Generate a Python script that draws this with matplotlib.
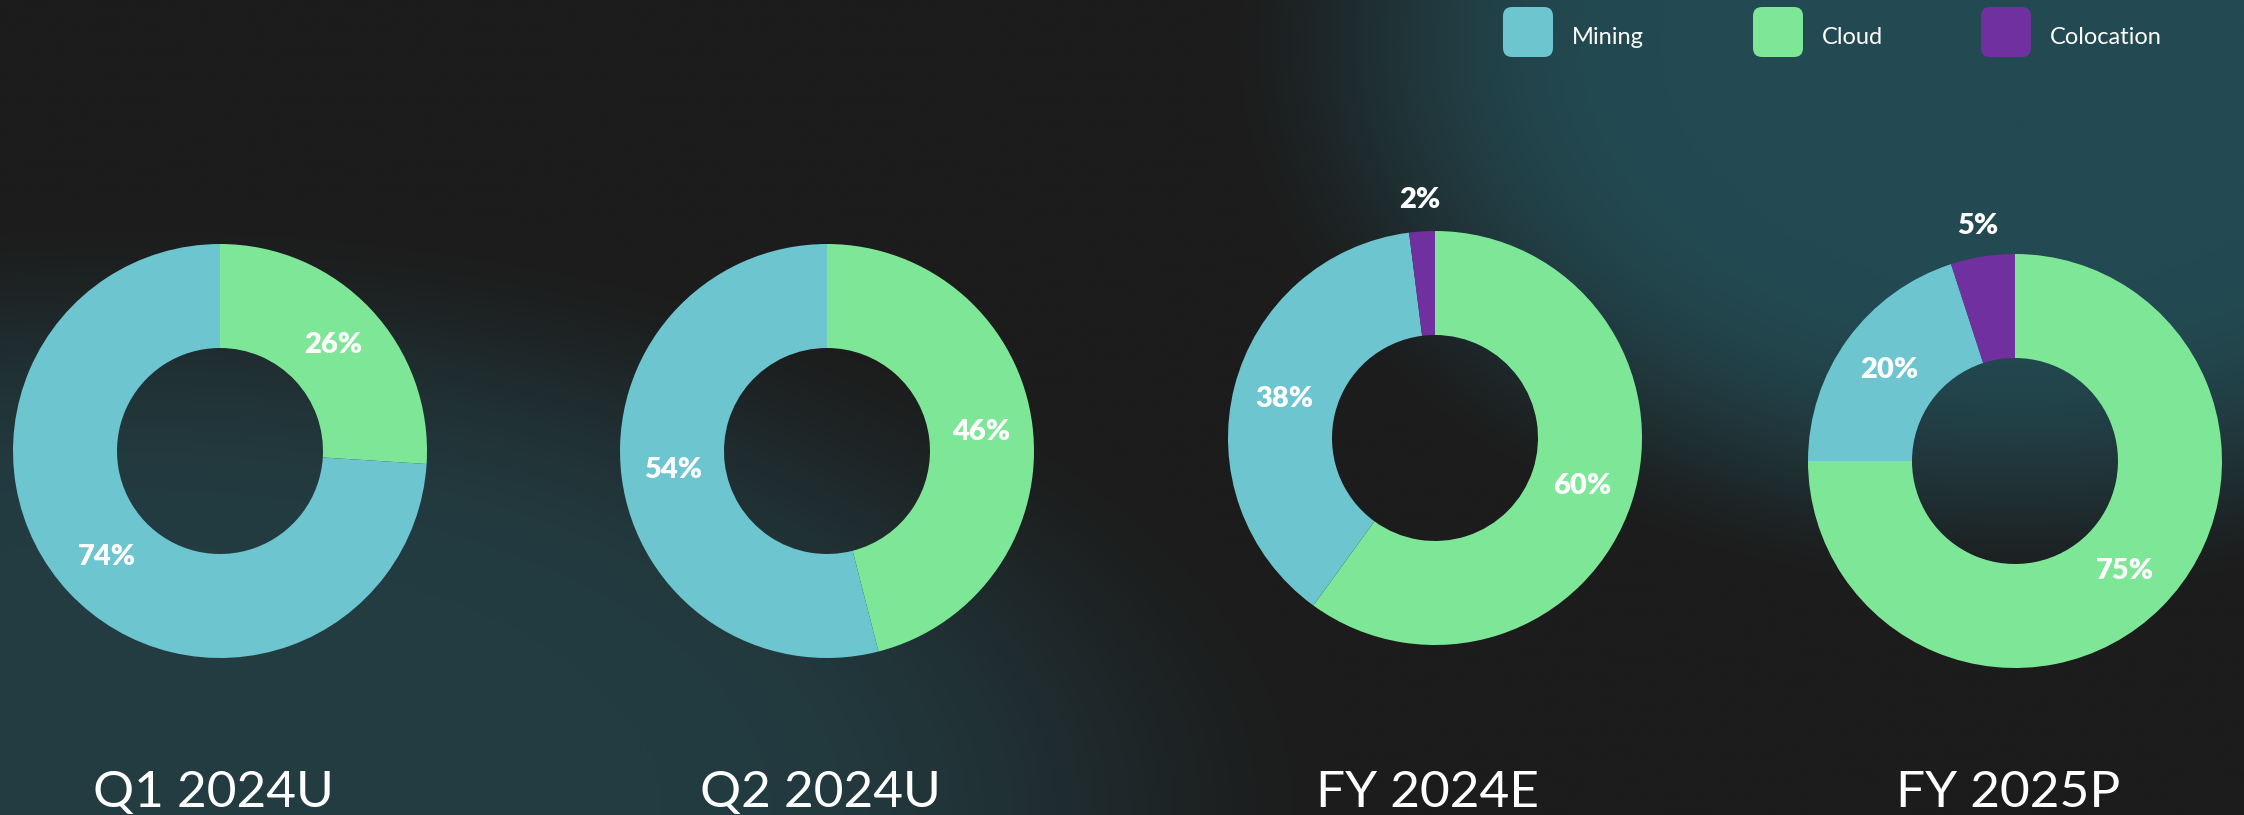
import numpy as np
import matplotlib
matplotlib.use("Agg")
import matplotlib.pyplot as plt
from matplotlib.patches import FancyBboxPatch

W, H = 2244, 815

categories = ["Mining", "Cloud", "Colocation"]
colors = ["#6cc5cf", "#7ee797", "#7030a0"]
periods = ["Q1 2024U", "Q2 2024U", "FY 2024E", "FY 2025P"]
mining = [74, 54, 38, 20]
cloud = [26, 46, 60, 75]
colocation = [0, 0, 2, 5]

# layout in slide pixels (origin top-left)
centers = [(220, 451), (827, 451), (1435, 438), (2015, 461)]
R_OUT, R_IN = 207, 103
legend_x = [1503, 1753, 1981]

plt.rcParams['font.family'] = ['Lato', 'DejaVu Sans']

# background: dark slide with two soft teal glows
def smooth(t):
    t = np.clip(t, 0, 1)
    return t * t * (3 - 2 * t)

u, v = np.meshgrid(np.linspace(0, 1, 450), np.linspace(0, 1, 165))
dA = ((u - 0.9) / 0.36) ** 2 + ((v - 0.05) / 0.7) ** 2
dB = ((u - 0.05) / 0.55) ** 2 + ((v - 1.0) / 0.75) ** 2
wA = smooth((1 - dA) / 0.8)[..., None]
wB = smooth((1 - dB) / 0.8)[..., None]
base = np.array([28, 28, 28]) / 255
tealA = np.array([35, 74, 82]) / 255
tealB = np.array([35, 60, 65]) / 255
bg = base * (1 - wA) + tealA * wA
bg = bg * (1 - wB) + tealB * wB

fig = plt.figure(figsize=(W / 100, H / 100), dpi=100)
ax = fig.add_axes([0, 0, 1, 1])
ax.imshow(bg, extent=(0, W, 0, H), origin='upper', interpolation='bilinear',
          aspect='auto', zorder=0)

for i, (cx, cy) in enumerate(centers):
    vals = [cloud[i], mining[i], colocation[i]]
    cols = [colors[1], colors[0], colors[2]]
    wedges, _ = ax.pie(vals, colors=cols, startangle=90, counterclock=False,
                       radius=R_OUT, center=(cx, H - cy),
                       wedgeprops=dict(width=R_OUT - R_IN, linewidth=0))
    for w, val in zip(wedges, vals):
        if val == 0:
            continue
        ang = np.deg2rad((w.theta1 + w.theta2) / 2)
        r = 0.75 * R_OUT if val >= 10 else 1.15 * R_OUT
        ax.text(cx + r * np.cos(ang), H - cy + r * np.sin(ang), f"{val}%",
                ha='center', va='center', color='white', fontsize=21,
                fontweight='heavy')
    ax.text(cx - 7, 8, periods[i], ha='center', va='baseline',
            color='white', fontsize=37)

# legend
for x0, name, col in zip(legend_x, categories, colors):
    ax.add_patch(FancyBboxPatch((x0, H - 57), 50, 50,
                                boxstyle="round,pad=0,rounding_size=9",
                                facecolor=col, edgecolor='none'))
    ax.text(x0 + 69, H - 37, name, ha='left', va='center', color='white',
            fontsize=17)

ax.set_xlim(0, W)
ax.set_ylim(0, H)
ax.axis('off')

fig.savefig("out.png", dpi=100)
